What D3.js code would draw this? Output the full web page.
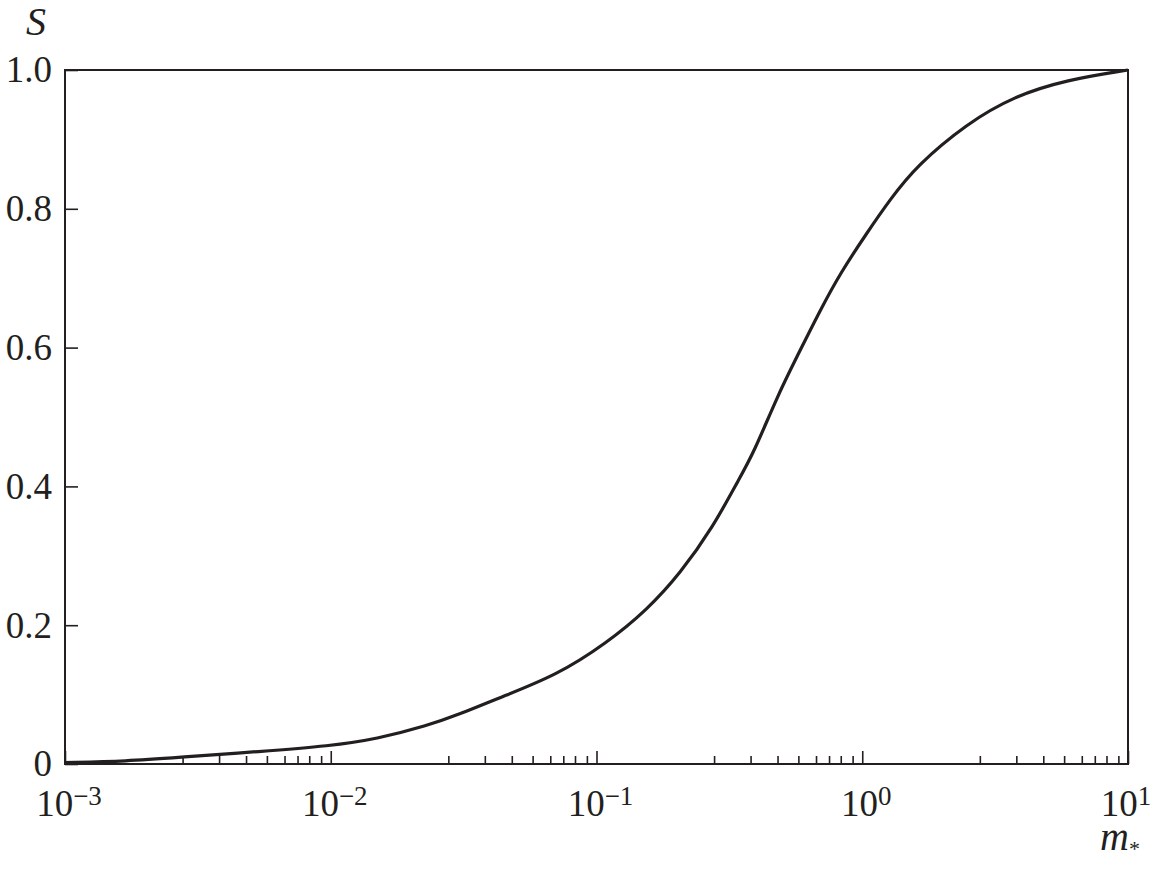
<!DOCTYPE html>
<html>
<head>
<meta charset="utf-8">
<script src="https://cdn.jsdelivr.net/npm/d3@7"></script>
</head>
<body style="margin:0">
<div id="chart"></div>
<script>
// Curve: m* (log axis) and S
const mValues = [0.001, 0.00171, 0.00271, 0.00542, 0.00993, 0.0149, 0.0230, 0.0307, 0.0428,
                 0.0710, 0.109, 0.155, 0.207, 0.275, 0.342, 0.390, 0.478, 0.568, 0.695,
                 0.826, 1.04, 1.27, 1.60, 2.48, 3.71, 5.89, 10];
const sValues = [0.002, 0.004, 0.0097, 0.018, 0.026, 0.036, 0.055, 0.072, 0.095,
                 0.128, 0.174, 0.222, 0.275, 0.342, 0.409, 0.448, 0.529, 0.587, 0.654,
                 0.707, 0.765, 0.813, 0.862, 0.923, 0.962, 0.986, 1.0];

// Tick values
const decadeExponents = [-3, -2, -1, 0, 1];
const minorMultipliers = [2.77, 3.8, 4.8, 5.75, 6.7, 7.5, 8.3, 9.2]; // as drawn in the figure
const yTicks = [0, 0.2, 0.4, 0.6, 0.8, 1.0];

const width = 1154;
const height = 874;
const margin = { top: 70, right: 26, bottom: 110, left: 65 };
const innerW = width - margin.left - margin.right;
const innerH = height - margin.top - margin.bottom;
const ink = "#231f20";
const serif = `"Liberation Serif", serif`;

const svg = d3.select("#chart")
    .append("svg")
    .attr("width", width)
    .attr("height", height);

const g = svg.append("g")
    .attr("transform", `translate(${margin.left},${margin.top})`);

// Scales
const x = d3.scaleLog().domain([1e-3, 10]).range([0, innerW]);
const y = d3.scaleLinear().domain([0, 1]).range([innerH, 0]);

const majors = decadeExponents.map(e => Math.pow(10, e));
const minors = [];
decadeExponents.slice(0, -1).forEach(e => {
    minorMultipliers.forEach(k => minors.push(k * Math.pow(10, e)));
});

// Minor x ticks (inward)
g.append("g")
    .attr("transform", `translate(0,${innerH})`)
    .call(d3.axisBottom(x).tickValues(minors).tickSize(-8).tickFormat(""))
    .call(a => a.select(".domain").remove())
    .call(a => a.selectAll("line").attr("stroke", ink).attr("stroke-width", 1.6));

// Major x ticks (inward)
g.append("g")
    .attr("transform", `translate(0,${innerH})`)
    .call(d3.axisBottom(x).tickValues(majors).tickSize(-13).tickFormat(""))
    .call(a => a.select(".domain").remove())
    .call(a => a.selectAll("line").attr("stroke", ink).attr("stroke-width", 1.6));

// x tick labels as 10^n
const xLabels = g.append("g")
    .selectAll("text")
    .data(decadeExponents)
    .enter()
    .append("text")
    .attr("x", d => Math.min(x(Math.pow(10, d)) + 4, innerW - 2))
    .attr("y", innerH + 52)
    .attr("text-anchor", "middle")
    .attr("fill", ink)
    .style("font-family", serif)
    .style("font-size", "37px");
xLabels.append("tspan").text("10");
xLabels.append("tspan")
    .attr("dy", -11)
    .style("font-size", "27px")
    .text(d => d < 0 ? "\u2212" + Math.abs(d) : String(d));

// y axis
g.append("g")
    .call(d3.axisLeft(y).tickValues(yTicks).tickSize(-13).tickPadding(13)
        .tickFormat(d => d === 0 ? "0" : d.toFixed(1)))
    .call(a => a.select(".domain").remove())
    .call(a => a.selectAll("line").attr("stroke", ink).attr("stroke-width", 1.6))
    .call(a => a.selectAll("text")
        .attr("fill", ink)
        .style("font-size", "37px")
        .style("font-family", serif));

// Frame
g.append("rect")
    .attr("x", 0)
    .attr("y", 0)
    .attr("width", innerW)
    .attr("height", innerH)
    .attr("fill", "none")
    .attr("stroke", ink)
    .attr("stroke-width", 2);

// Curve
const data = mValues.map((m, i) => ({ m: m, s: sValues[i] }));
const line = d3.line()
    .x(d => x(d.m))
    .y(d => y(d.s))
    .curve(d3.curveBasis);

g.append("path")
    .datum(data)
    .attr("d", line)
    .attr("fill", "none")
    .attr("stroke", ink)
    .attr("stroke-width", 3.2)
    .attr("stroke-linejoin", "round");

// Axis titles
svg.append("text")
    .attr("x", 26)
    .attr("y", 35)
    .attr("fill", ink)
    .style("font-family", serif)
    .style("font-size", "40px")
    .style("font-style", "italic")
    .text("S");

const xt = svg.append("text")
    .attr("x", 1100)
    .attr("y", 850)
    .attr("fill", ink)
    .style("font-family", serif)
    .style("font-size", "40px")
    .style("font-style", "italic");
xt.append("tspan").text("m");
xt.append("tspan")
    .attr("dy", 6)
    .style("font-size", "22px")
    .style("font-style", "normal")
    .text("*");
</script>
</body>
</html>
